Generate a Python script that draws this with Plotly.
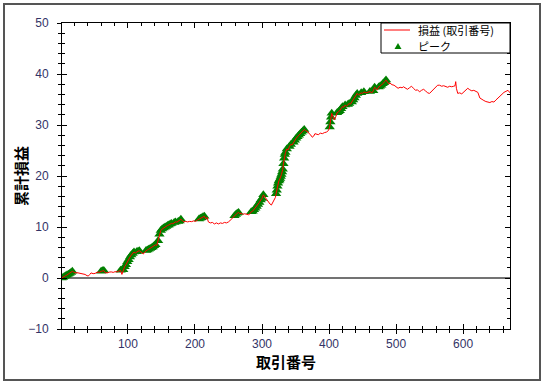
import plotly.graph_objects as go

# ---- data ----
trade_no = [1, 3, 5, 7, 9, 11, 13, 15, 17, 19, 21,
            24, 27, 30, 33, 36, 39, 41, 43, 45, 48, 51, 54, 57,
            60, 62, 64, 66,
            69, 72, 75, 78, 81, 84, 87,
            89, 91, 93, 95, 97, 99, 101, 103, 105, 107, 109, 111, 113, 115, 117, 119, 121, 123, 125, 127,
            129, 131, 133, 135, 137, 139, 141, 143, 145, 147, 149, 151, 153, 155, 157, 159, 161, 163, 165, 167,
            169, 171, 173, 175, 177, 179, 181,
            183, 186, 189, 192, 195, 198, 201, 204,
            206, 208, 210, 212, 214, 216, 218, 220,
            223, 226, 229, 232, 235, 238, 241, 244, 247, 250, 253,
            255, 257, 259, 261, 263, 265, 267, 269, 271, 274, 277, 280, 282,
            284, 286, 288, 290, 292, 294, 296, 298, 300, 302, 304, 306, 308, 310, 312, 314, 316, 318, 320,
            321, 322, 323, 324, 325, 326, 327, 328, 329, 330, 331, 332, 333, 334, 335, 337, 339, 341, 343, 345,
            347, 349, 351, 353, 355, 357, 359, 361, 363,
            365, 367, 369, 371, 373, 375, 377, 379, 381, 384, 387, 390, 393, 396, 399,
            401, 402, 403, 404, 406, 408, 410, 412, 414, 416, 418, 420, 422, 424, 426, 428, 430, 432, 434, 436,
            438, 440, 442, 444, 446, 448, 450, 452, 455, 458, 461, 464, 466, 468, 470, 472, 474, 476, 478, 480,
            482, 484, 485,
            487, 489, 491, 494, 497, 500, 503, 506, 509, 511, 514, 517, 520, 523, 526, 529, 532, 535, 538, 541,
            544, 547, 550, 553, 556, 559, 562, 565, 568, 571, 574, 577, 580, 583, 586, 588, 589, 590, 592, 595,
            598, 601, 604, 607, 610, 613, 616, 619, 622, 625, 628, 631, 634, 637, 640, 643, 646, 649, 652, 655,
            658, 661, 664, 667, 670]

cum_pnl = [0.0, 0.1, 0.3, 0.45, 0.6, 0.75, 0.9, 1.1, 1.3, 1.15, 1.0,
           1.05, 0.95, 1.0, 0.85, 0.7, 0.45, 0.4, 0.7, 1.0, 0.85, 0.9, 1.15, 1.1,
           1.3, 1.4, 1.45, 1.05,
           1.0, 1.15, 1.2, 1.1, 1.25, 1.2, 1.35,
           1.5, 0.7, 1.6, 2.2, 2.6, 3.2, 3.6, 4.1, 4.5, 4.8, 5.1, 4.9, 5.15, 5.25, 5.35, 5.1, 4.9, 4.7, 5.1, 5.4,
           5.5, 5.65, 5.8, 5.95, 6.1, 6.3, 6.5, 6.4, 7.3, 8.6, 9.3, 9.6, 9.8, 9.95, 10.1, 10.3, 10.4, 10.6, 10.7, 10.65,
           10.9, 11.0, 10.95, 11.1, 11.2, 11.5, 11.3,
           11.0, 11.1, 11.0, 11.1, 11.05, 11.2, 11.1, 11.4,
           11.55, 11.7, 11.8, 12.0, 12.1, 11.6, 11.9, 11.0,
           10.8, 10.9, 10.6, 10.8, 10.6, 10.8, 10.7, 10.9, 10.8, 11.0, 11.3,
           11.6, 11.9, 12.2, 12.45, 12.7, 12.85, 12.6, 12.7, 12.5, 12.6, 12.5, 12.4, 12.6,
           13.0, 13.1, 13.4, 13.7, 14.0, 14.4, 14.8, 15.3, 15.6, 16.3, 15.9, 15.5, 15.1, 14.8, 14.5, 14.3, 14.9, 15.2, 15.8,
           16.5, 17.2, 18.0, 18.6, 19.0, 19.2, 19.5, 19.9, 20.3, 20.8, 21.3, 22.4, 23.5, 24.2, 24.6, 25.3, 25.1, 25.8, 26.2, 26.1,
           26.6, 27.0, 27.4, 27.7, 28.0, 28.3, 28.6, 28.8, 29.1,
           28.9, 28.7, 28.6, 28.2, 28.0, 27.6, 27.8, 28.3, 28.2, 28.1, 28.4, 28.3, 28.5, 28.6, 28.9,
           29.6, 30.6, 31.5, 32.3, 31.6, 31.0, 31.6, 32.4, 32.6, 32.8, 33.2, 33.6, 33.5, 33.9, 33.7, 34.0, 34.2, 34.1, 34.5, 34.9,
           35.3, 35.8, 36.2, 35.9, 36.1, 36.3, 36.2, 36.5, 36.3, 36.45, 36.55, 36.3, 36.7, 37.4, 37.2, 36.9, 37.45, 37.6, 37.8, 38.1,
           38.3, 38.6, 38.8,
           38.3, 38.1, 38.2, 37.9, 37.8, 37.5, 37.2, 37.4, 37.3, 37.5, 37.2, 37.0, 37.3, 37.6, 37.2, 36.8, 36.9, 36.5, 36.8, 37.0,
           36.7, 36.3, 36.2, 36.6, 37.0, 37.4, 37.8, 37.8, 37.6, 37.7, 37.5, 37.4, 37.6, 37.5, 37.6, 37.7, 38.5, 37.2, 36.2, 36.3,
           36.1, 36.5, 37.0, 37.2, 36.9, 36.7, 36.8, 36.6, 36.4, 35.3, 35.0, 34.8, 34.6, 34.5, 34.4, 34.6, 34.5, 34.9, 35.3, 35.8,
           36.1, 36.4, 36.6, 36.8, 36.3]

series_line_name = "損益 (取引番号)"
series_peak_name = "ピーク"
x_title = "取引番号"
y_title = "累計損益"
x_range = [1.6, 670]
y_range = [-10, 50]

# peaks = trades where the cumulative P&L reaches a new high
peak_x, peak_y = [], []
running_max = float("-inf")
for t, v in zip(trade_no, cum_pnl):
    if v >= running_max:
        running_max = v
        peak_x.append(t)
        peak_y.append(v)

# ---- layout geometry (pixels in the 545x383 page) ----
W, H = 545, 383
PL, PR, PT, PB = 62, 510, 23, 329           # plot area edges
PW, PH = PR - PL, PB - PT


def px(xp):
    return (xp - PL) / PW


def py(yp):
    return (PB - yp) / PH


fig = go.Figure()
fig.add_trace(go.Scatter(
    x=peak_x, y=peak_y, mode="markers", name=series_peak_name,
    marker=dict(symbol="triangle-up", size=9, color="#008000", line=dict(width=0)),
    showlegend=False,
))
fig.add_trace(go.Scatter(
    x=trade_no, y=cum_pnl, mode="lines", name=series_line_name,
    line=dict(color="#ff0000", width=1), showlegend=False,
))
# empty helper trace for the outward tick overlay axes
fig.add_trace(go.Scatter(x=[], y=[], xaxis="x2", yaxis="y2", showlegend=False, hoverinfo="skip"))

tick_font = dict(family="Liberation Sans, Arial, sans-serif", size=12, color="#333366")
title_font = dict(family="Noto Sans CJK JP, sans-serif", size=15, color="#000000")
legend_font = dict(family="Noto Sans CJK JP, sans-serif", size=11, color="#000000")

# legend box drawn to match the compact reference legend
leg_x0, leg_x1, leg_y0, leg_y1 = 381, PR, PT, 53
row1_y, row2_y = 30, 46
tri_cx, tri_cy, tri_w, tri_h = 398, row2_y, 7, 6
tri_path = "M {:.5f} {:.5f} L {:.5f} {:.5f} L {:.5f} {:.5f} Z".format(
    px(tri_cx - tri_w / 2), py(tri_cy + tri_h / 2),
    px(tri_cx + tri_w / 2), py(tri_cy + tri_h / 2),
    px(tri_cx), py(tri_cy - tri_h / 2))

fig.update_layout(
    width=W, height=H,
    margin=dict(l=PL, r=W - PR, t=PT, b=H - PB, autoexpand=False),
    paper_bgcolor="white", plot_bgcolor="white",
    showlegend=False,
    xaxis=dict(
        range=x_range, showgrid=False, zeroline=False,
        showline=True, linecolor="#000000", linewidth=1, mirror="ticks",
        ticks="inside", ticklen=5, tickcolor="#000000", tick0=0, dtick=100,
        minor=dict(ticks="inside", ticklen=3, tickcolor="#000000", dtick=20, tick0=0, showgrid=False),
        tickfont=tick_font, ticklabelstandoff=4,
    ),
    yaxis=dict(
        range=y_range, showgrid=False, zeroline=False,
        showline=True, linecolor="#000000", linewidth=1, mirror="ticks",
        ticks="inside", ticklen=5, tickcolor="#000000", tick0=0, dtick=10,
        minor=dict(ticks="inside", ticklen=3, tickcolor="#000000", dtick=2, tick0=0, showgrid=False),
        tickfont=tick_font, ticklabelstandoff=10,
    ),
    xaxis2=dict(
        overlaying="x", matches="x", side="bottom", anchor="y",
        showgrid=False, zeroline=False, showline=False, showticklabels=False,
        ticks="outside", ticklen=4, tickcolor="#000000", tick0=0, dtick=100,
        minor=dict(ticks="outside", ticklen=3, tickcolor="#000000", dtick=20, tick0=0, showgrid=False),
    ),
    yaxis2=dict(
        overlaying="y", matches="y", side="left", anchor="x",
        showgrid=False, zeroline=False, showline=False, showticklabels=False,
        ticks="outside", ticklen=4, tickcolor="#000000", tick0=0, dtick=10,
        minor=dict(ticks="outside", ticklen=3, tickcolor="#000000", dtick=2, tick0=0, showgrid=False),
    ),
    shapes=[
        dict(type="line", xref="paper", yref="y", x0=0, x1=1, y0=0, y1=0,
             line=dict(color="#444444", width=1.5), layer="below"),
        dict(type="rect", xref="paper", yref="paper",
             x0=px(4), x1=px(540), y0=py(380), y1=py(4),
             line=dict(color="#555555", width=2), fillcolor="rgba(0,0,0,0)"),
        # legend frame and keys
        dict(type="rect", xref="paper", yref="paper",
             x0=px(leg_x0), x1=px(leg_x1), y0=py(leg_y1), y1=py(leg_y0),
             line=dict(color="#000000", width=1), fillcolor="white"),
        dict(type="line", xref="paper", yref="paper",
             x0=px(384), x1=px(410), y0=py(row1_y), y1=py(row1_y),
             line=dict(color="#ff0000", width=1)),
        dict(type="path", xref="paper", yref="paper", path=tri_path,
             line=dict(width=0), fillcolor="#008000"),
    ],
    annotations=[
        dict(text="<b>" + x_title + "</b>", xref="paper", yref="paper",
             x=0.5, y=py(361), xanchor="center", yanchor="middle",
             showarrow=False, font=title_font, borderpad=0),
        dict(text="<b>" + y_title + "</b>", xref="paper", yref="paper",
             x=px(20), y=0.5, xanchor="center", yanchor="middle", textangle=-90,
             showarrow=False, font=title_font, borderpad=0),
        dict(text=series_line_name, xref="paper", yref="paper",
             x=px(417), y=py(row1_y), xanchor="left", yanchor="middle",
             showarrow=False, font=legend_font, borderpad=0),
        dict(text=series_peak_name, xref="paper", yref="paper",
             x=px(417), y=py(row2_y), xanchor="left", yanchor="middle",
             showarrow=False, font=legend_font, borderpad=0),
    ],
)

fig.write_html("out.html", config={"displayModeBar": False},
               post_script="document.body.style.margin='0px';")
